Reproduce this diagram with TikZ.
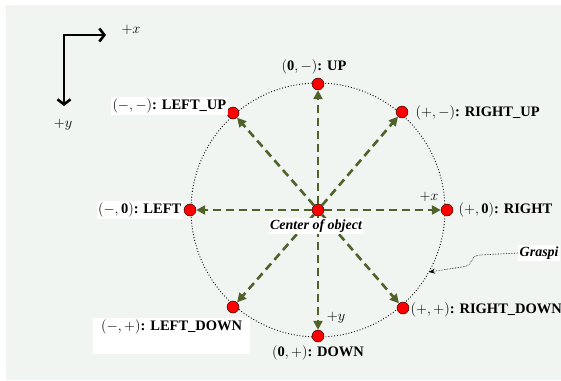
\documentclass[tikz,border=0pt]{standalone}
\usepackage{fontspec}
\setmainfont{Liberation Serif}
\usetikzlibrary{arrows.meta}
\definecolor{dirgreen}{RGB}{79,98,40}
\definecolor{canvas}{RGB}{241,245,242}
\begin{document}
\begin{tikzpicture}[x=1pt, y=-1pt, >={Triangle[length=9pt,width=9pt]},
  dot/.style={circle, draw=black, fill=red, inner sep=0pt, minimum size=12pt},
  dir/.style={->, draw=dirgreen, line width=2.6pt, dash pattern=on 8pt off 5pt},
  lbl/.style={inner sep=1.5pt, font=\fontsize{14.5}{17}\selectfont\bfseries},
  boxlbl/.style={lbl, fill=white},
  axis/.style={line width=2.6pt, {Straight Barb[length=5pt,width=13pt]}-{Straight Barb[length=5pt,width=13pt]}},
  sign/.style={font=\fontsize{15}{17}\selectfont}]
\useasboundingbox (0,0) rectangle (561,380);
\fill[canvas] (6,5) rectangle (561,380);
% axes
\coordinate (origin) at (64,35);
\coordinate (xend) at (106,35);
\coordinate (yend) at (64,106);
\draw[axis] (xend) -- (origin) -- (yend);
\node[sign] (xaxis) at (131,30) {$+x$};
\node[sign] (yaxis) at (63,125) {$+y$};
% circle of directions
\draw[dotted, line width=0.9pt] (318,210) circle[radius=127pt];
\node[dot] (center) at (318,210) {};
\node[dot] (up) at (318,84) {};
\node[dot] (rightup) at (402,112) {};
\node[dot] (right) at (447,210) {};
\node[dot] (rightdown) at (403,308) {};
\node[dot] (down) at (318,336) {};
\node[dot] (leftdown) at (233,307) {};
\node[dot] (left) at (190,210) {};
\node[dot] (leftup) at (233,113) {};
\draw[dir] (center) -- (up);
\draw[dir] (center) -- (rightup);
\draw[dir] (center) -- (right);
\draw[dir] (center) -- (rightdown);
\draw[dir] (center) -- (down);
\draw[dir] (center) -- (leftdown);
\draw[dir] (center) -- (left);
\draw[dir] (center) -- (leftup);
% labels
\node[lbl] (uplbl) at (314,67) {$(\mathbf{0},-)$: UP};
\node[lbl, anchor=west] (rightuplbl) at (414,113) {$(+,-)$: RIGHT\_UP};
\node[lbl, anchor=west] (rightlbl) at (457,210) {$(+,\mathbf{0})$: RIGHT};
\node[lbl, anchor=west] (rightdownlbl) at (409,310) {$(+,+)$: RIGHT\_DOWN};
\node[lbl] (downlbl) at (318,353) {$(\mathbf{0},+)$: DOWN};
\node[boxlbl, anchor=north west, minimum width=157pt, text depth=22pt] (leftdownlbl) at (93,318) {$(-,+)$: LEFT\_DOWN};
\node[boxlbl, anchor=east] (leftlbl) at (183,210) {$(-,\mathbf{0})$: LEFT};
\node[boxlbl, anchor=east] (leftuplbl) at (228,106) {$(-,-)$: LEFT\_UP};
\node[fill=white, inner sep=1.5pt, font=\fontsize{14}{16}\selectfont\bfseries\itshape] (centerlbl) at (316,226) {Center of object};
\node[sign] (xsign) at (429,197) {$+x$};
\node[sign] (ysign) at (336,318) {$+y$};
% grasping
\node[fill=white, inner sep=1.5pt, anchor=west, font=\fontsize{14}{16}\selectfont\bfseries\itshape] (grasp) at (518,253) {Graspi};
\coordinate (gp) at (429,272);
\draw[densely dotted, line width=0.6pt, -{Stealth[length=6pt,width=5pt]}] (grasp.west) -- (480,255) .. controls (468,256) and (476,265) .. (462,267) -- (gp);
\end{tikzpicture}
\end{document}
